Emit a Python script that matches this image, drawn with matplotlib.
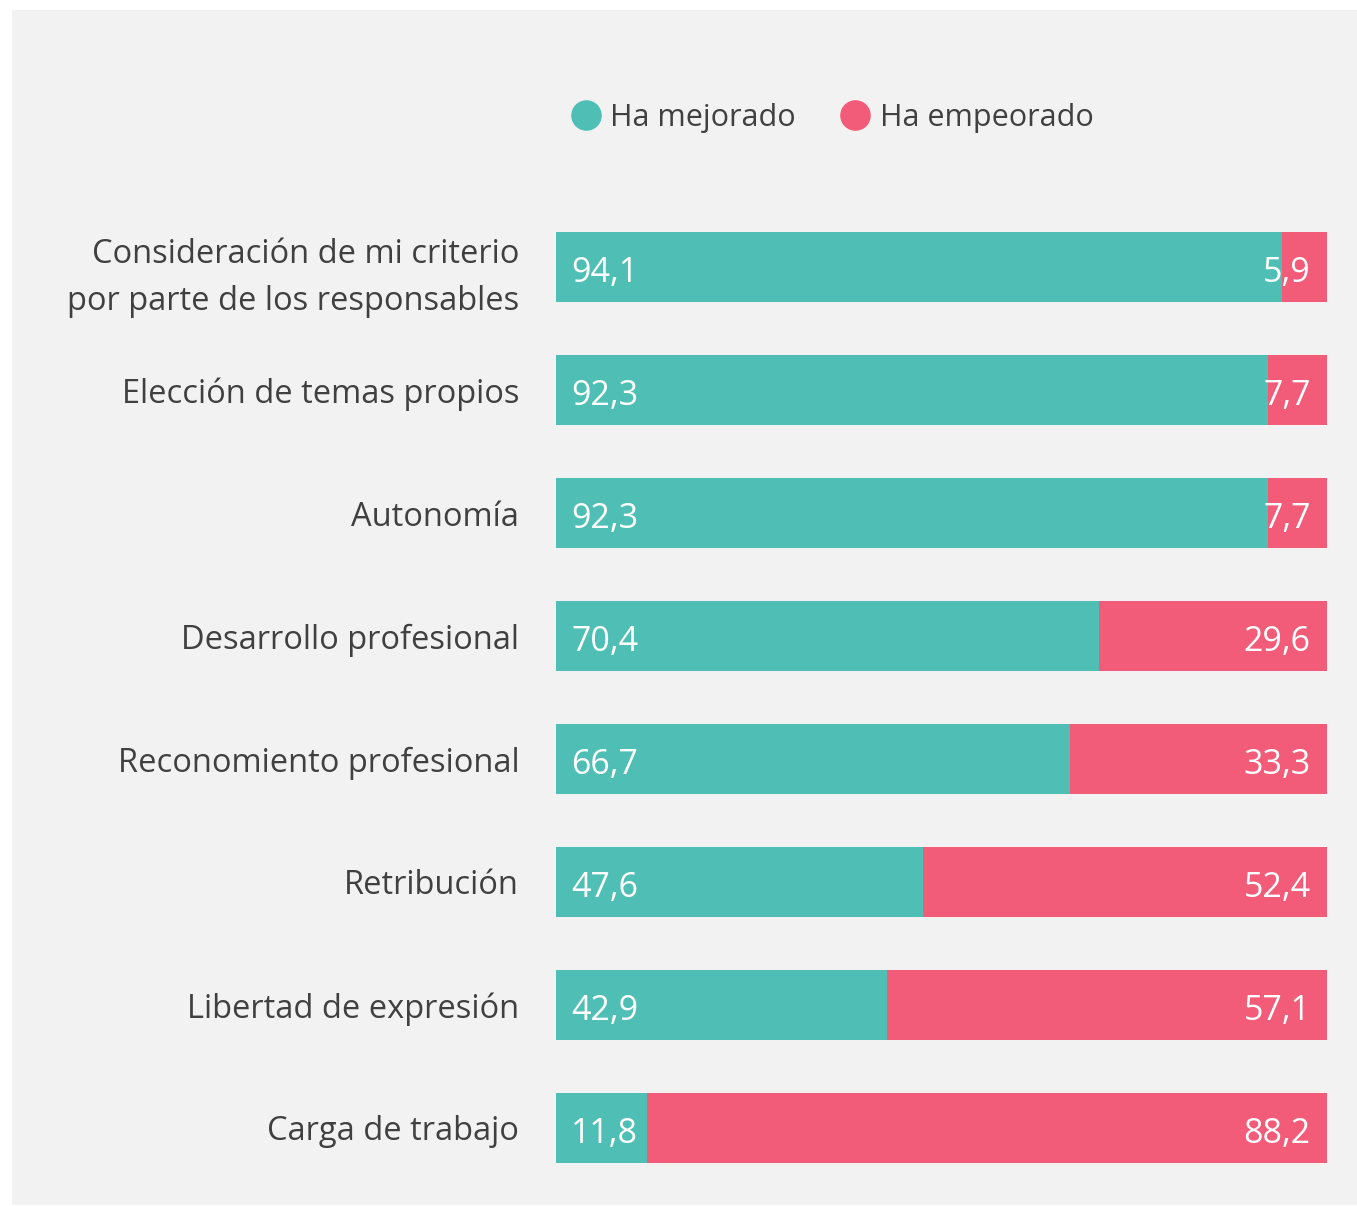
import matplotlib.pyplot as plt
from matplotlib.patches import Rectangle
from matplotlib.lines import Line2D

categories = [
    "Consideración de mi criterio\npor parte de los responsables",
    "Elección de temas propios",
    "Autonomía",
    "Desarrollo profesional",
    "Reconomiento profesional",
    "Retribución",
    "Libertad de expresión",
    "Carga de trabajo",
]
mejorado = [94.1, 92.3, 92.3, 70.4, 66.7, 47.6, 42.9, 11.8]
empeorado = [5.9, 7.7, 7.7, 29.6, 33.3, 52.4, 57.1, 88.2]

teal = "#4FBFB5"
pink = "#F25C78"
text_color = "#404040"
plt.rcParams['font.family'] = ['Open Sans', 'DejaVu Sans']

W, H = 1357, 1206
fig = plt.figure(figsize=(W / 100, H / 100), dpi=100, facecolor="white")
# light grey panel behind everything
fig.patches.append(Rectangle((12 / W, 1 - 1205 / H), (1357 - 12) / W, (1205 - 10) / H,
                             transform=fig.transFigure, facecolor="#F2F2F2",
                             edgecolor="none", zorder=-10))

ax = fig.add_axes([556 / W, 1 - 1189.5 / H, (1327 - 556) / W, (1189.5 - 205.5) / H])
ax.set_facecolor("none")

ypos = list(range(len(categories)))
bh = 70 / 123
ax.barh(ypos, mejorado, height=bh, color=teal, edgecolor="none")
ax.barh(ypos, empeorado, left=mejorado, height=bh, color=pink, edgecolor="none")

fmt = lambda v: f"{v:.1f}".replace(".", ",")
for y, m, e in zip(ypos, mejorado, empeorado):
    ax.text(2.0, y + 0.05, fmt(m), color="white", fontsize=24.5, va="center", ha="left")
    ax.text(100 - 2.1, y + 0.05, fmt(e), color="white", fontsize=24.5, va="center", ha="right")

ax.set_xlim(0, 100)
ax.set_ylim(len(categories) - 0.5, -0.5)
ax.set_yticks(ypos)
ax.set_yticklabels(categories, fontsize=23.5, color=text_color, linespacing=1.55)
for lbl in ax.get_yticklabels()[:1]:
    lbl.set_y(-0.05)
ax.tick_params(axis="y", length=0, pad=26.5)
ax.set_xticks([])
for s in ax.spines.values():
    s.set_visible(False)

handles = [
    Line2D([], [], marker="o", linestyle="none", markersize=21, color=teal, label="Ha mejorado"),
    Line2D([], [], marker="o", linestyle="none", markersize=21, color=pink, label="Ha empeorado"),
]
fig.legend(handles=handles, loc="center", bbox_to_anchor=(832 / W, 1 - 118 / H), ncol=2,
           frameon=False, fontsize=22, labelcolor=text_color, handletextpad=0.3,
           columnspacing=1.45, handlelength=1.0)

fig.savefig("out.png", dpi=100, facecolor="white")
